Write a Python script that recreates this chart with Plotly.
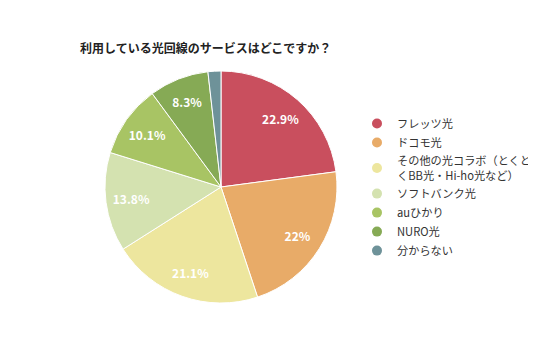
import plotly.graph_objects as go

labels = ["フレッツ光", "ドコモ光", "その他の光コラボ（とくと<br>くBB光・Hi-ho光など）",
          "ソフトバンク光", "auひかり", "NURO光", "分からない"]
values = [22.9, 22.0, 21.1, 13.8, 10.1, 8.3, 1.8]
shown = ["22.9%", "22%", "21.1%", "13.8%", "10.1%", "8.3%", ""]
colors = ["#C94F5E", "#E8AB68", "#EDE69E", "#D4E2B0", "#A8C464", "#86AA55", "#6E9299"]

W, H = 536, 357
OFF = 8  # page body margin
cx, cy, r = 221 - OFF, 187 - OFF, 116
dom = dict(x=[(cx - r) / W, (cx + r) / W], y=[(H - cy - r) / H, (H - cy + r) / H])

fig = go.Figure()
# filled pie
fig.add_trace(go.Pie(
    labels=labels, values=values, textinfo="none",
    sort=False, direction="clockwise", rotation=0,
    marker=dict(colors=colors, line=dict(color="white", width=1)),
    showlegend=False, hoverinfo="label+percent", domain=dom,
))
# transparent ring carrying the labels further out
fig.add_trace(go.Pie(
    labels=labels, values=values, text=shown, texttemplate="<b>%{text}</b>",
    textinfo="text", textposition="inside", insidetextorientation="horizontal",
    sort=False, direction="clockwise", rotation=0, hole=0.56,
    marker=dict(colors=["rgba(0,0,0,0)"] * len(values), line=dict(width=0)),
    textfont=dict(color="white", size=12, family="Noto Sans CJK JP"),
    showlegend=False, hoverinfo="skip", domain=dom,
))
for lab, col in zip(labels, colors):
    fig.add_trace(go.Scatter(
        x=[None], y=[None], mode="markers", name=lab,
        marker=dict(symbol="circle", size=10, color=col),
    ))

fig.update_layout(
    width=W, height=H, margin=dict(l=0, r=0, t=0, b=0, autoexpand=False),
    paper_bgcolor="white", plot_bgcolor="white",
    font=dict(family="Noto Sans CJK JP", color="#333333"),
    xaxis=dict(visible=False), yaxis=dict(visible=False),
    title=dict(text="<b>利用している光回線のサービスはどこですか？</b>",
               x=72 / W, xanchor="left", y=1 - 41 / H, yanchor="middle",
               font=dict(size=12, color="#222222")),
    legend=dict(x=349 / W, xanchor="left", y=1 - 101 / H, yanchor="top",
                font=dict(size=11.2, color="#333333"), tracegroupgap=0,
                itemwidth=30, bgcolor="rgba(0,0,0,0)"),
)
fig.write_html("out.html")
